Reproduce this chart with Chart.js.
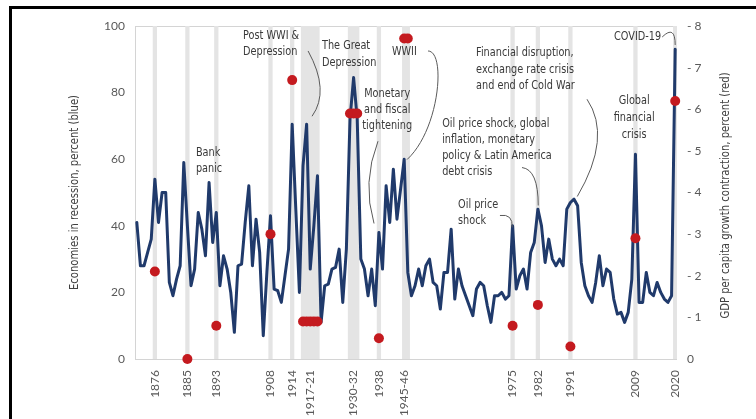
<!DOCTYPE html>
<html><head><meta charset="utf-8">
<script src="https://cdn.jsdelivr.net/npm/chart.js@4/dist/chart.umd.min.js"></script>
<style>
html,body{margin:0;padding:0;background:#fff;overflow:hidden;}
#wrap{position:relative;width:756px;height:419px;overflow:hidden;}
#frame{position:absolute;left:9px;top:6px;width:800px;height:500px;border-left:3px solid #000;border-top:3px solid #000;pointer-events:none;}
canvas{position:absolute;left:0;top:0;}
</style></head>
<body><div id="wrap"><canvas id="c" width="756" height="419"></canvas><div id="frame"></div></div>
<script>
// ---------- data ----------
const firstYear = 1871, lastYear = 2020;
const years = [];
for (let y = firstYear; y <= lastYear; y++) years.push(String(y));

// Economies in recession, percent (left axis, blue)
const recessionShare = [
  41, 28, 28, 32, 36, 54, 41, 50, 50, 23,      // 1871-1880
  19, 24, 28, 59, 40, 22, 27, 44, 39, 31,      // 1881-1890
  53, 35, 44, 22, 31, 27, 20, 8, 28, 28.5,     // 1891-1900
  41, 52, 28, 42, 32, 7, 26, 43, 21, 20.5,     // 1901-1910
  17, 25, 33, 70.5, 45, 20, 58, 70.5, 27, 40,  // 1911-1920
  55, 11, 22, 22.5, 27, 27.5, 33, 17, 33, 72,  // 1921-1930
  84.5, 72, 30, 27, 19, 27, 16, 38, 27, 52,    // 1931-1940
  41, 57, 42, 51, 60, 26, 19, 22, 27, 22,      // 1941-1950
  28, 30, 23, 22, 15, 26, 26, 39, 18, 27,      // 1951-1960
  22, 19, 16, 13, 21, 23, 22, 16, 11, 19,      // 1961-1970
  19, 20, 18, 19, 40, 21, 25, 27, 21, 32,      // 1971-1980
  35, 45, 40, 29, 36, 30, 28, 30, 28, 45,      // 1981-1990
  47, 48, 46, 29, 22, 19, 17, 23, 31, 22,      // 1991-2000
  27, 26, 18, 13.5, 14, 11, 14, 24, 61.5, 17,  // 2001-2010
  17, 26, 20, 19, 23, 20, 18, 17, 19, 93       // 2011-2020
];

// Global recession years (shaded) and GDP per capita contraction (right axis, red)
const recessionYears = [1876, 1885, 1893, 1908, 1914, 1917, 1918, 1919, 1920, 1921,
                        1930, 1931, 1932, 1938, 1945, 1946, 1975, 1982, 1991, 2009, 2020];
const gdpContraction = [2.1, 0, 0.8, 3.0, 6.7, 0.9, 0.9, 0.9, 0.9, 0.9,
                        5.9, 5.9, 5.9, 0.5, 7.7, 7.7, 0.8, 1.3, 0.3, 2.9, 6.2];

// x-axis tick labels
const tickYears  = [1876, 1885, 1893, 1908, 1914, 1919, 1931, 1938, 1945, 1975, 1982, 1991, 2009, 2020];
const tickLabels = ['1876','1885','1893','1908','1914','1917-21','1930-32','1938','1945-46','1975','1982','1991','2009','2020'];

const leftTitle  = 'Economies in recession, percent (blue)';
const rightTitle = 'GDP per capita growth contraction, percent (red)';

// ---------- derived series ----------
const bandData = years.map(y => recessionYears.includes(+y) ? 100 : null);
const dotData  = years.map(y => { const k = recessionYears.indexOf(+y); return k >= 0 ? gdpContraction[k] : null; });

const TICK_FONT = {family: 'Lato, "Liberation Sans", sans-serif', size: 12};
const NARROW = '"Liberation Sans Narrow", "Arial Narrow", "DejaVu Sans Condensed", sans-serif';

// annotations (positions in data units: year, left-axis value)
const notes = [
  {lines: ['Bank', 'panic'], yr: 1887.35, v: 62.0, align: 'left', lh: 16.5},
  {lines: ['Post WWI &', 'Depression'], yr: 1900.4, v: 97.0, align: 'left', lh: 16},
  {lines: ['The Great', 'Depression'], yr: 1922.25, v: 94.0, align: 'left', lh: 16.5},
  {lines: ['Monetary', 'and fiscal', 'tightening'], yr: 1940.3, v: 79.5, align: 'center', lh: 16},
  {lines: ['WWII'], yr: 1941.6, v: 92.3, align: 'left', lh: 16},
  {lines: ['Financial disruption,', 'exchange rate crisis', 'and end of Cold War'], yr: 1964.9, v: 91.9, align: 'left', lh: 16.5},
  {lines: ['Oil price shock, global', 'inflation, monetary', 'policy & Latin America', 'debt crisis'], yr: 1955.5, v: 70.5, align: 'left', lh: 16},
  {lines: ['Oil price', 'shock'], yr: 1959.9, v: 46.4, align: 'left', lh: 16},
  {lines: ['Global', 'financial', 'crisis'], yr: 2008.65, v: 77.4, align: 'center', lh: 17},
  {lines: ['COVID-19'], yr: 2016.1, v: 96.7, align: 'right', lh: 16}
];
const leaders = [
  {q: [[1918.4, 92.5], [1924.5, 80.5], [1919.5, 72.9]]},
  {q: [[1937.75, 65.4], [1933.3, 53.0], [1936.65, 40.7]]},
  {c: [[1951.6, 92.5], [1956.6, 92.5], [1954.9, 69.0], [1945.8, 59.9]]},
  {q: [[1971.5, 43.1], [1975.1, 43.7], [1974.9, 39.5]]},
  {q: [[1977.6, 57.5], [1982.1, 56.9], [1982.1, 46.1]]},
  {q: [[1995.6, 78.0], [2002.6, 66.7], [1992.9, 48.8]]},
  {q: [[2016.4, 96.7], [2020.0, 100.5], [2020.0, 94.3]]}
];

function px(chart, yr, v) {
  const xs = chart.scales.x, ys = chart.scales.y;
  const x0 = xs.getPixelForValue(0), step = xs.getPixelForValue(1) - x0;
  return [x0 + (yr - firstYear) * step, ys.getPixelForValue(v)];
}

function narrowText(ctx, text, x, y, align, sx) {
  ctx.save();
  ctx.translate(x, y);
  ctx.scale(sx, 1);
  ctx.textAlign = align;
  ctx.fillText(text, 0, 0);
  ctx.restore();
}

const decor = {
  id: 'decor',
  beforeDatasetsDraw(chart) {
    const {ctx, chartArea: a} = chart;
    ctx.save();
    ctx.strokeStyle = '#d4d4d4';
    ctx.lineWidth = 1;
    ctx.strokeRect(Math.round(a.left) + 0.5, Math.round(a.top) + 0.5, Math.round(a.right - a.left) - 1, Math.round(a.bottom - a.top));
    ctx.restore();
  },
  afterDraw(chart) {
    const {ctx, chartArea: a} = chart;
    ctx.save();
    // leader lines
    ctx.strokeStyle = '#5a5a5a';
    ctx.lineWidth = 1;
    leaders.forEach(L => {
      ctx.beginPath();
      if (L.q) {
        const [p0, p1, p2] = L.q.map(p => px(chart, p[0], p[1]));
        ctx.moveTo(p0[0], p0[1]);
        ctx.quadraticCurveTo(p1[0], p1[1], p2[0], p2[1]);
      } else {
        const [p0, p1, p2, p3] = L.c.map(p => px(chart, p[0], p[1]));
        ctx.moveTo(p0[0], p0[1]);
        ctx.bezierCurveTo(p1[0], p1[1], p2[0], p2[1], p3[0], p3[1]);
      }
      ctx.stroke();
    });
    // annotation text
    ctx.fillStyle = '#3a3a3a';
    ctx.font = '12px ' + NARROW;
    ctx.textBaseline = 'middle';
    notes.forEach(n => {
      const [x, y] = px(chart, n.yr, n.v);
      n.lines.forEach((t, i) => narrowText(ctx, t, x, y + i * n.lh, n.align, 0.9));
    });
    // axis titles (read bottom to top)
    ctx.fillStyle = '#404040';
    const midY = (a.top + a.bottom) / 2;
    [[leftTitle, 75, midY], [rightTitle, chart.scales.y2.right - 30, midY + 3]].forEach(([t, x, y]) => {
      ctx.save();
      ctx.translate(x, y);
      ctx.rotate(-Math.PI / 2);
      ctx.scale(0.93, 1);
      ctx.textAlign = 'center';
      ctx.fillText(t, 0, 0);
      ctx.restore();
    });
    ctx.restore();
  }
};

new Chart(document.getElementById('c'), {
  data: {
    labels: years,
    datasets: [
      {type: 'line', label: 'Economies in recession', data: recessionShare, yAxisID: 'y',
       borderColor: '#203a6b', borderWidth: 3, pointRadius: 0, tension: 0, order: 2,
       borderJoinStyle: 'round', borderCapStyle: 'round'},
      {type: 'line', label: 'GDP per capita contraction', data: dotData, yAxisID: 'y2',
       showLine: false, pointRadius: 5, pointHoverRadius: 5, pointBackgroundColor: '#c41a1f',
       pointBorderColor: '#c41a1f', pointBorderWidth: 0, order: 1, clip: false, spanGaps: false},
      {type: 'bar', label: 'Global recessions', data: bandData, yAxisID: 'y',
       backgroundColor: '#e4e4e4', borderWidth: 0, barPercentage: 1, categoryPercentage: 1, order: 3}
    ]
  },
  options: {
    responsive: false,
    animation: false,
    events: [],
    layout: {padding: {left: 68, top: 26, right: 0, bottom: 0}},
    plugins: {legend: {display: false}, tooltip: {enabled: false}},
    scales: {
      x: {
        type: 'category', offset: true,
        grid: {display: false, drawTicks: false}, border: {display: false},
        ticks: {
          autoSkip: false, maxRotation: 90, minRotation: 90, padding: 11,
          color: '#595959', font: TICK_FONT,
          callback: (v, i) => { const k = tickYears.indexOf(+years[i]); return k >= 0 ? tickLabels[k] : ''; }
        },
        afterFit: s => { s.height = 60; }
      },
      y: {
        position: 'left', min: 0, max: 100,
        grid: {display: false, drawTicks: false}, border: {display: false},
        ticks: {stepSize: 20, padding: 10, color: '#595959', font: TICK_FONT},
        afterFit: s => { s.width = 67; }
      },
      y2: {
        position: 'right', min: 0, max: 8,
        grid: {display: false, drawTicks: false}, border: {display: false},
        ticks: {stepSize: 1, padding: 10, color: '#595959', font: TICK_FONT,
                callback: v => v === 0 ? '0' : '- ' + v},
        afterFit: s => { s.width = 79; }
      }
    }
  },
  plugins: [decor]
});
</script>
</body></html>
